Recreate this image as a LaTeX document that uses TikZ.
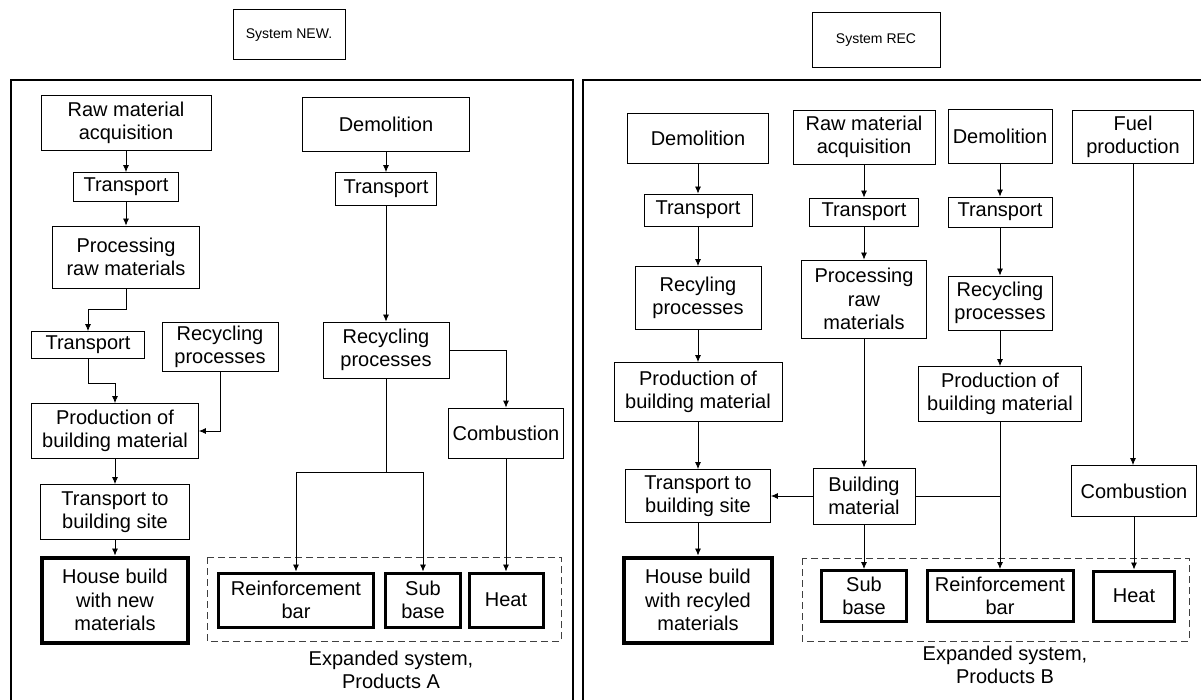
\documentclass[tikz,border=0pt]{standalone}
\usepackage{fontspec}
\setmainfont{Liberation Sans}
\usetikzlibrary{arrows.meta}

\tikzset{
  blk/.style={draw, line width=0.8pt, align=center, inner sep=0pt},
  sz/.style 2 args={minimum width=#1, minimum height=#2},
  prod/.style={blk, line width=3pt},
  ttl/.style={blk, line width=1pt, font=\fontsize{14}{17}\selectfont},
  arr/.style={-{Latex[length=7pt,width=6pt]}},
  frame/.style={line width=2.6pt},
  expand/.style={draw=black!75, line width=0.9pt, dash pattern=on 7pt off 4pt},
}

\begin{document}
\begin{tikzpicture}[x=1pt,y=-1pt,line width=0.8pt,font=\fontsize{20}{23.5}\selectfont]
\useasboundingbox (0,0) rectangle (1201,700);

% titles and frames
\node[ttl,sz={112}{50}] (tnew) at (289,35) {System NEW.};
\node[ttl,sz={128}{55}] (trec) at (876,40) {System REC};
\draw[frame] (11,705) -- (11,80) -- (573,80) -- (573,705);
\draw[frame] (583,705) -- (583,80) -- (1210,80);

% expanded systems
\draw[expand] (207,557) rectangle (561,641);
\draw[expand] (802,558) rectangle (1189,641);

%%% System NEW
\node[blk,sz={170}{55}] (rawA) at (126,123) {Raw material\\acquisition};
\node[blk,sz={105}{29}] (trA1) at (126,187) {Transport};
\node[blk,sz={147}{62}] (procA) at (126,257) {Processing\\raw materials};
\node[blk,sz={113}{27}] (trA2) at (88,345) {Transport};
\node[blk,sz={116}{49}] (recA1) at (220,347) {Recycling\\processes};
\node[blk,sz={167}{55}] (prodA) at (115,431) {Production of\\building material};
\node[blk,sz={149}{55}] (siteA) at (115,512) {Transport to\\building site};
\node[prod,sz={146}{85},line width=4pt] (houseA) at (115,600) {House build\\with new\\materials};

\node[blk,sz={167}{54}] (demA) at (386,124) {Demolition};
\node[blk,sz={101}{33}] (trA3) at (386,189) {Transport};
\node[blk,sz={126}{56}] (recA2) at (386,350) {Recycling\\processes};
\node[blk,sz={115}{50}] (combA) at (506,433) {Combustion};

\node[prod,sz={155}{54}] (rebarA) at (296,600) {Reinforcement\\bar};
\node[prod,sz={75}{54}] (subA) at (423,600) {Sub\\base};
\node[prod,sz={74}{54}] (heatA) at (506,600) {Heat};
\node[align=center] (expA) at (391,670) {Expanded system,\\Products A};

\draw[arr] (rawA) -- (trA1);
\draw[arr] (trA1) -- (procA);
\draw[arr] (procA.south) -- ++(0,21) -| (trA2.north);
\draw[arr] (trA2.south) -- ++(0,24) -| (prodA.north);
\draw[arr] (recA1.south) |- (prodA.east);
\draw[arr] (prodA) -- (siteA);
\draw[arr] (siteA) -- (houseA);

\draw[arr] (demA) -- (trA3);
\draw[arr] (trA3) -- (recA2);
\draw[arr] (recA2.east) -| (combA.north);
\coordinate (jA) at (386,472);
\draw (recA2.south) -- (jA);
\draw[arr] (jA) -| (rebarA.north);
\draw[arr] (jA) -| (subA.north);
\draw[arr] (combA) -- (heatA);

%%% System REC
\node[blk,sz={141}{50}] (demB1) at (698,138) {Demolition};
\node[blk,sz={108}{32}] (trB1) at (698,210) {Transport};
\node[blk,sz={126}{63}] (recB1) at (698,298) {Recyling\\processes};
\node[blk,sz={168}{59}] (prodB1) at (698,392) {Production of\\building material};
\node[blk,sz={145}{53}] (siteB) at (698,496) {Transport to\\building site};
\node[prod,sz={148}{85},line width=4pt] (houseB) at (698,600) {House build\\with recyled\\materials};

\node[blk,sz={142}{54}] (rawB) at (864,137) {Raw material\\acquisition};
\node[blk,sz={109}{28}] (trB2) at (864,212) {Transport};
\node[blk,sz={125}{78}] (procB) at (864,299) {Processing\\raw\\materials};
\node[blk,sz={102}{56}] (bmB) at (864,496) {Building\\material};

\node[blk,sz={104}{54}] (demB2) at (1000,136) {Demolition};
\node[blk,sz={104}{30}] (trB3) at (1000,212) {Transport};
\node[blk,sz={104}{54}] (recB2) at (1000,303) {Recycling\\processes};
\node[blk,sz={163}{55}] (prodB2) at (1000,394) {Production of\\building material};

\node[blk,sz={121}{53}] (fuelB) at (1133,137) {Fuel\\production};
\node[blk,sz={125}{51}] (combB) at (1134,491) {Combustion};

\node[prod,sz={85}{51}] (subB) at (864,596) {Sub\\base};
\node[prod,sz={146}{51}] (rebarB) at (1000,596) {Reinforcement\\bar};
\node[prod,sz={81}{50}] (heatB) at (1134,596) {Heat};
\node[align=center] (expB) at (1005,665) {Expanded system,\\Products B};

\draw[arr] (demB1) -- (trB1);
\draw[arr] (trB1) -- (recB1);
\draw[arr] (recB1) -- (prodB1);
\draw[arr] (prodB1) -- (siteB);
\draw[arr] (siteB) -- (houseB);

\draw[arr] (rawB) -- (trB2);
\draw[arr] (trB2) -- (procB);
\draw[arr] (procB) -- (bmB);
\draw[arr] (bmB) -- (siteB);
\draw[arr] (bmB) -- (subB);
\draw (bmB.east) -- (prodB2.south |- bmB.east);

\draw[arr] (demB2) -- (trB3);
\draw[arr] (trB3) -- (recB2);
\draw[arr] (recB2) -- (prodB2);
\draw[arr] (prodB2) -- (rebarB);

\draw[arr] (fuelB.south) -- (fuelB.south |- combB.north);
\draw[arr] (combB) -- (heatB.north -| combB.south);

\end{tikzpicture}
\end{document}
